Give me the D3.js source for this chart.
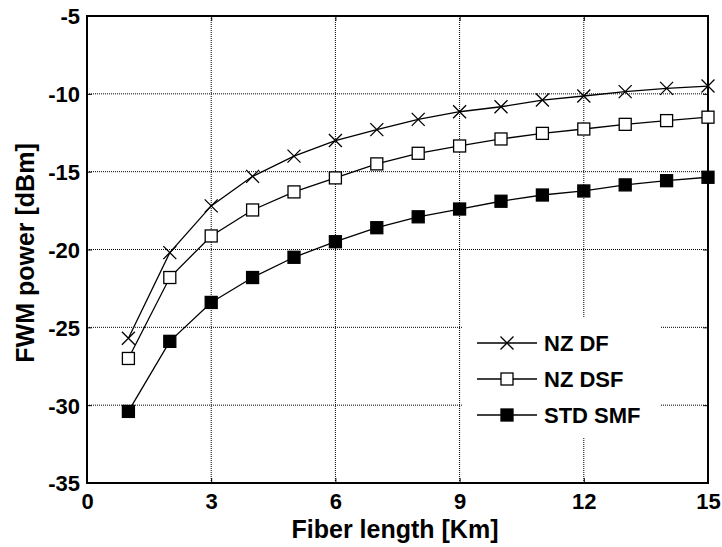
<!DOCTYPE html>
<html><head><meta charset="utf-8">
<script src="https://cdn.jsdelivr.net/npm/d3@7"></script>
<style>body{margin:0;background:#fff}svg{display:block}text{font-family:"Liberation Sans",Arial,sans-serif;font-weight:bold}</style>
</head><body><svg id="c" width="722" height="547"></svg>
<script>
const lengths = [1,2,3,4,5,6,7,8,9,10,11,12,13,14,15];
const nzdf  = [-25.7,-20.2,-17.2,-15.3,-14.0,-13.0,-12.3,-11.64,-11.15,-10.83,-10.4,-10.14,-9.86,-9.65,-9.5];
const nzdsf = [-27.0,-21.8,-19.13,-17.46,-16.3,-15.4,-14.5,-13.82,-13.35,-12.9,-12.54,-12.26,-11.96,-11.72,-11.5];
const stdsmf= [-30.4,-25.9,-23.4,-21.8,-20.5,-19.5,-18.6,-17.9,-17.4,-16.9,-16.5,-16.24,-15.85,-15.58,-15.36];
const xTicks = [0,3,6,9,12,15];
const yTicks = [-35,-30,-25,-20,-15,-10,-5];
const seriesNames = ["NZ DF","NZ DSF","STD SMF"];
const markers = ["cross","open","filled"];

const svg = d3.select("#c");
const L=87, R=708, T=16, B=483;
const x = d3.scaleLinear().domain([0,15]).range([L,R]);
const y = d3.scaleLinear().domain([-35,-5]).range([B,T]);

// grid
const g = svg.append("g");
g.selectAll(".vg").data(xTicks.slice(1,-1)).join("line")
 .attr("x1",d=>x(d)).attr("x2",d=>x(d)).attr("y1",T).attr("y2",B)
 .attr("stroke","#000").attr("stroke-width",1).attr("stroke-dasharray","1,1");
g.selectAll(".hg").data(yTicks.slice(1,-1)).join("line")
 .attr("x1",L).attr("x2",R).attr("y1",d=>y(d)).attr("y2",d=>y(d))
 .attr("stroke","#000").attr("stroke-width",1).attr("stroke-dasharray","1,1");

// legend background (hides grid)
const lg = {x:463,y:318,w:197,h:119};
svg.append("rect").attr("x",lg.x).attr("y",lg.y).attr("width",lg.w).attr("height",lg.h).attr("fill","#fff");

// axes
const xAxis = d3.axisBottom(x).tickValues(xTicks).tickSize(-5).tickPadding(10).tickFormat(d3.format("d"));
const yAxis = d3.axisLeft(y).tickValues(yTicks).tickSize(-5).tickPadding(7).tickFormat(d=>d3.format("d")(d).replace("−","-"));
const xa = svg.append("g").attr("transform",`translate(0,${B})`).call(xAxis);
const ya = svg.append("g").attr("transform",`translate(${L},0)`).call(yAxis);
[xa,ya].forEach(a=>{a.select(".domain").remove();a.selectAll("text").attr("font-size",22).attr("fill","#000").style("font-family","'Liberation Sans',Arial,sans-serif").style("font-weight","bold");a.selectAll("line").attr("stroke","#000");});
ya.selectAll("text").attr("dy","0.36em");
// top/right ticks
svg.append("g").attr("transform",`translate(0,${T})`).call(d3.axisTop(x).tickValues(xTicks).tickSize(-5).tickFormat("")).call(a=>{a.select(".domain").remove();});
svg.append("g").attr("transform",`translate(${R},0)`).call(d3.axisRight(y).tickValues(yTicks).tickSize(-5).tickFormat("")).call(a=>{a.select(".domain").remove();});

// frame
svg.append("rect").attr("x",L).attr("y",T).attr("width",R-L).attr("height",B-T).attr("fill","none").attr("stroke","#000").attr("stroke-width",2);

// series
const data = [nzdf,nzdsf,stdsmf];
const line = d3.line().x((d,i)=>x(lengths[i])).y(d=>y(d));
function drawMarker(sel,type,cx,cy){
  if(type==="cross"){
    const s=6.5;
    sel.append("path").attr("d",`M${cx-s},${cy-s}L${cx+s},${cy+s}M${cx-s},${cy+s}L${cx+s},${cy-s}`).attr("stroke","#000").attr("stroke-width",1.3).attr("fill","none");
  } else {
    const s=6;
    sel.append("rect").attr("x",cx-s).attr("y",cy-s).attr("width",2*s).attr("height",2*s)
      .attr("fill",type==="filled"?"#000":"#fff").attr("stroke","#000").attr("stroke-width",1.3);
  }
}
data.forEach((vals,k)=>{
  svg.append("path").datum(vals).attr("d",line).attr("fill","none").attr("stroke","#000").attr("stroke-width",1.3);
  const mg = svg.append("g");
  vals.forEach((v,i)=>drawMarker(mg,markers[k],x(lengths[i]),y(v)));
});

// legend
const rows=[343,379,415];
seriesNames.forEach((n,k)=>{
  const ly=rows[k];
  svg.append("line").attr("x1",477).attr("x2",537).attr("y1",ly).attr("y2",ly).attr("stroke","#000").attr("stroke-width",1.3);
  drawMarker(svg,markers[k],507,ly);
  svg.append("text").attr("x",544).attr("y",ly).attr("dy","0.36em").attr("font-size",22).text(n);
});

// axis titles
svg.append("text").attr("x",395).attr("y",538).attr("text-anchor","middle").attr("font-size",25).text("Fiber length [Km]");
svg.append("text").attr("transform","translate(34,253) rotate(-90)").attr("text-anchor","middle").attr("font-size",25).text("FWM power [dBm]");
</script></body></html>
